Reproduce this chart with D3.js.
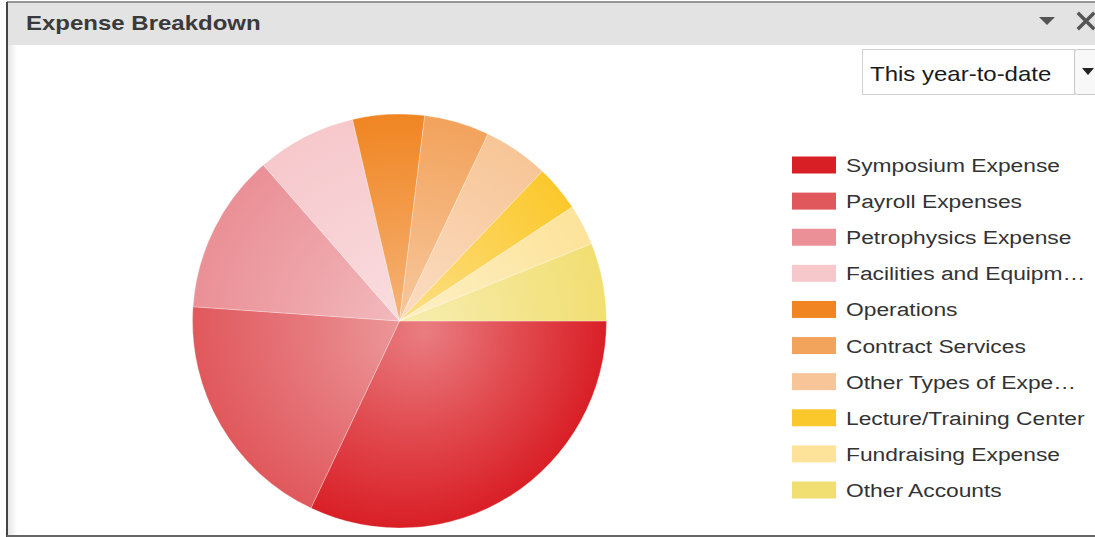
<!DOCTYPE html>
<html>
<head>
<meta charset="utf-8">
<script src="https://cdn.jsdelivr.net/npm/d3@7"></script>
<style>
  html, body { margin: 0; padding: 0; background: #ffffff; }
  svg { display: block; font-family: "Liberation Sans", Arial, sans-serif; }
</style>
</head>
<body>
<svg id="chart" width="1095" height="537"></svg>
<script>
// Expense categories, year-to-date amounts (share of total, %)
const categories = [
  "Symposium Expense",
  "Payroll Expenses",
  "Petrophysics Expense",
  "Facilities and Equipm\u2026",
  "Operations",
  "Contract Services",
  "Other Types of Expe\u2026",
  "Lecture/Training Center",
  "Fundraising Expense",
  "Other Accounts"
];
const values = [32.1, 19.1, 12.5, 7.8, 5.6, 5.1, 5.1, 3.6, 3.2, 6.1];
const colors = [
  "#d91f26", "#e0585c", "#ea9096", "#f6c8cc", "#f08522",
  "#f2a35c", "#f7c597", "#fbc82c", "#fde39a", "#f1df72"
];
const periodLabel = "This year-to-date";
const title = "Expense Breakdown";

const W = 1095, H = 537;
const TEXT_STRETCH = 1.2;   // wide-set UI lettering
const svg = d3.select("#chart");
const defs = svg.append("defs");

function label(parent, x, y, str, size, fill, weight) {
  return parent.append("text")
    .attr("transform", `translate(${x},${y}) scale(${TEXT_STRETCH},1)`)
    .attr("font-size", size).attr("font-weight", weight || "normal")
    .attr("fill", fill).text(str);
}

// ---- panel frame ----
svg.append("rect").attr("x", 7).attr("y", 2).attr("width", W).attr("height", H - 3)
  .attr("fill", "#ffffff");
svg.append("rect").attr("x", 7).attr("y", 2).attr("width", W).attr("height", 43)
  .attr("fill", "#e3e3e3");
// soft inner shadow strip along the left edge
const strip = defs.append("linearGradient").attr("id", "strip");
strip.append("stop").attr("offset", 0).attr("stop-color", "#e6e6e6");
strip.append("stop").attr("offset", 1).attr("stop-color", "#ffffff");
svg.append("rect").attr("x", 8).attr("y", 45).attr("width", 9).attr("height", H - 47)
  .attr("fill", "url(#strip)");
svg.append("line").attr("x1", 7).attr("x2", W).attr("y1", 2).attr("y2", 2)
  .attr("stroke", "#777").attr("stroke-width", 1.5);
svg.append("line").attr("x1", 7).attr("x2", 7).attr("y1", 2).attr("y2", H)
  .attr("stroke", "#444").attr("stroke-width", 2);
svg.append("line").attr("x1", 7).attr("x2", W).attr("y1", 536).attr("y2", 536)
  .attr("stroke", "#666").attr("stroke-width", 2);

label(svg, 26, 30, title, 20, "#3a3a3a", "bold");

// title-bar controls
svg.append("path").attr("d", "M1039,17 L1055,17 L1047,25 Z").attr("fill", "#555");
svg.append("path").attr("d", "M1079,14 L1093,28 M1093,14 L1079,28")
  .attr("stroke", "#555").attr("stroke-width", 3.5).attr("stroke-linecap", "square");

// period selector
svg.append("rect").attr("x", 862.5).attr("y", 49.5).attr("width", 212).attr("height", 45)
  .attr("fill", "#ffffff").attr("stroke", "#d0d0d0");
svg.append("rect").attr("x", 1074.5).attr("y", 49.5).attr("width", 30).attr("height", 45)
  .attr("rx", 3).attr("fill", "#f8f8f8").attr("stroke", "#c8c8c8");
svg.append("path").attr("d", "M1082,68 L1094,68 L1088,75 Z").attr("fill", "#222");
label(svg, 870, 81, periodLabel, 20, "#1a1a1a");

// ---- pie ----
const cx = 399.5, cy = 321, R = 207;
const pie = d3.pie().sort(null).value(d => d)
  .startAngle(Math.PI / 2).endAngle(Math.PI / 2 + 2 * Math.PI);
const arc = d3.arc().innerRadius(0).outerRadius(R);

const color = d3.scaleOrdinal().domain(categories).range(colors);

// each slice gets a radial shading: pale near the hub, full colour at the rim
categories.forEach((c, i) => {
  const base = d3.color(color(c));
  const g = defs.append("radialGradient").attr("id", "g" + i)
    .attr("gradientUnits", "userSpaceOnUse")
    .attr("cx", 0).attr("cy", 0).attr("r", R)
    .attr("fx", 25).attr("fy", 10);
  g.append("stop").attr("offset", 0).attr("stop-color", d3.interpolateRgb(base, "#ffffff")(0.42));
  g.append("stop").attr("offset", 0.5).attr("stop-color", d3.interpolateRgb(base, "#ffffff")(0.2));
  g.append("stop").attr("offset", 1).attr("stop-color", base.formatHex());
});

const gPie = svg.append("g").attr("transform", `translate(${cx},${cy})`);
gPie.selectAll("path.slice")
  .data(pie(values))
  .join("path")
  .attr("class", "slice")
  .attr("d", arc)
  .attr("fill", (d, i) => `url(#g${i})`)
  .attr("stroke", "rgba(255,255,255,0.35)")
  .attr("stroke-width", 0.8);

// ---- legend ----
const legend = svg.append("g");
const rowY = d3.scalePoint().domain(categories).range([165, 490]);
const rows = legend.selectAll("g.item").data(categories).join("g")
  .attr("class", "item")
  .attr("transform", d => `translate(792,${rowY(d)})`);
rows.append("rect").attr("x", 0).attr("y", -8.5).attr("width", 44).attr("height", 17)
  .attr("fill", d => color(d));
rows.each(function (d) {
  label(d3.select(this), 54, 7, d, 19, "#333");
});
</script>
</body>
</html>
